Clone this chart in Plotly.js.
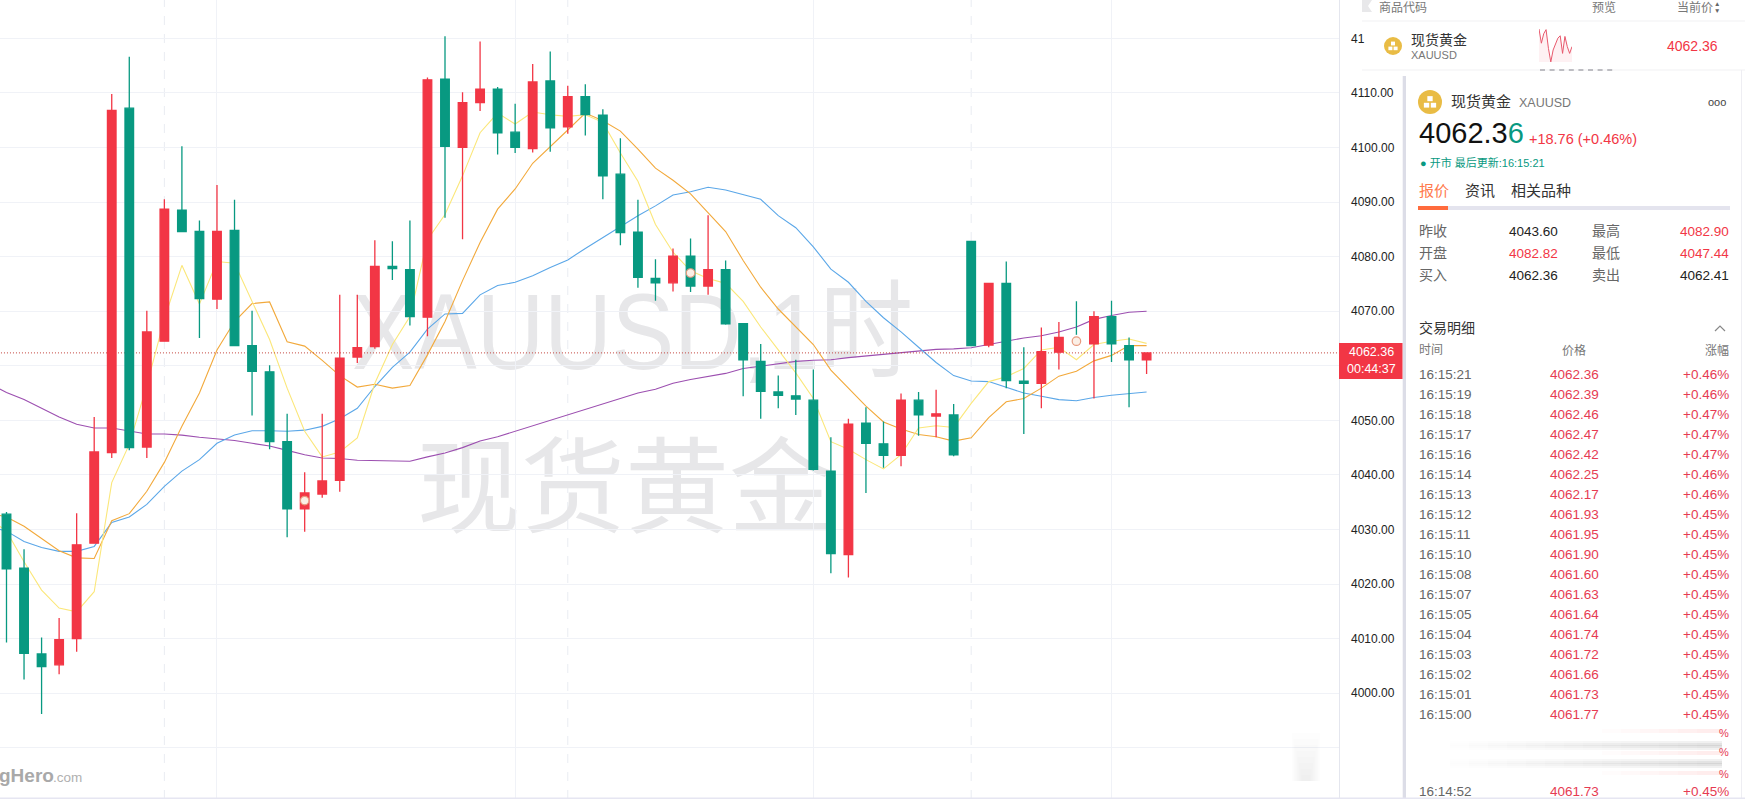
<!DOCTYPE html>
<html><head><meta charset="utf-8">
<script src="https://cdn.plot.ly/plotly-3.0.1.min.js"></script>
<style>html,body{margin:0;padding:0;background:#fff;overflow:hidden}#c{width:1745px;height:799px}</style>
</head><body><div id="c"></div>
<script>
// ---------- chart data ----------
const opens=[4032.8,4022.9,4007.2,4005.2,4010.0,4027.5,4044.1,4107.2,4045.1,4064.5,4088.5,4084.6,4072.2,4084.8,4063.7,4058.9,4046.1,4033.8,4036.5,4039.0,4061.6,4063.5,4078.2,4077.6,4068.9,4112.5,4100.0,4108.2,4110.7,4102.8,4099.8,4112.2,4103.8,4109.3,4105.9,4095.1,4084.5,4076.0,4075.2,4080.1,4074.6,4077.6,4067.7,4060.8,4055.2,4054.5,4053.7,4040.7,4025.4,4049.5,4045.7,4043.6,4053.7,4050.8,4051.0,4082.8,4063.8,4075.1,4057.2,4056.8,4062.5,4064.7,4064.0,4069.0,4063.7,4061.1];
const highs=[4033.2,4026.4,4010.2,4013.8,4033.0,4050.6,4109.8,4116.6,4070.1,4090.5,4100.2,4086.6,4093.1,4090.4,4070.1,4060.1,4051.2,4040.5,4051.2,4073.0,4073.0,4083.0,4082.8,4086.6,4112.8,4120.4,4110.1,4119.4,4111.1,4108.0,4115.3,4117.6,4111.3,4111.6,4107.0,4101.7,4090.4,4079.5,4081.5,4083.3,4087.6,4079.3,4067.7,4064.0,4058.2,4061.1,4059.3,4046.9,4050.3,4052.4,4049.8,4054.9,4055.2,4055.6,4053.0,4082.9,4075.1,4079.1,4063.4,4067.0,4068.0,4071.8,4070.0,4071.9,4065.2,4062.4];
const lows=[4009.3,4002.5,3996.2,4003.5,4007.6,4027.5,4043.1,4044.5,4043.1,4064.5,4084.5,4065.1,4070.4,4063.6,4050.9,4044.7,4028.6,4029.6,4035.8,4036.9,4060.5,4063.1,4075.7,4067.4,4065.4,4087.1,4083.2,4106.7,4098.7,4099.0,4099.1,4099.2,4102.5,4102.2,4090.5,4082.1,4074.3,4071.9,4073.6,4073.5,4073.0,4067.5,4054.4,4050.3,4052.2,4051.0,4040.8,4022.0,4021.2,4036.7,4041.3,4041.6,4047.2,4046.9,4043.4,4063.6,4063.4,4055.9,4047.5,4052.2,4059.3,4064.2,4054.0,4060.7,4052.4,4058.5];
const closes=[4022.8,4007.3,4004.9,4009.8,4027.2,4044.2,4106.8,4045.0,4066.2,4088.7,4084.6,4072.3,4084.6,4063.7,4059.0,4046.1,4033.8,4036.7,4038.9,4061.4,4063.3,4078.2,4077.8,4069.0,4112.4,4100.2,4108.2,4110.7,4102.7,4100.0,4112.0,4103.6,4109.3,4106.0,4094.8,4084.4,4076.2,4075.2,4080.1,4074.6,4077.6,4067.7,4061.1,4055.3,4054.6,4053.9,4041.0,4025.6,4049.3,4045.8,4043.6,4053.7,4051.0,4051.2,4043.7,4063.7,4075.1,4057.3,4056.8,4062.6,4065.2,4064.4,4069.0,4064.0,4061.1,4062.36];
// moving averages, first value sits one bar left of the first candle
const ma5=[4032.0,4029.7,4024.1,4018.9,4015.6,4014.9,4018.6,4038.6,4045.6,4056.4,4068.6,4078.4,4071.3,4079.1,4078.8,4071.8,4064.8,4055.9,4048.0,4043.3,4044.2,4046.8,4056.8,4063.9,4069.0,4083.1,4087.7,4094.8,4102.7,4106.3,4104.3,4106.5,4106.0,4105.7,4106.0,4104.6,4099.0,4093.8,4085.9,4080.8,4077.4,4076.0,4075.1,4071.8,4067.1,4062.9,4058.7,4054.0,4046.1,4044.7,4042.8,4041.1,4043.7,4048.6,4049.0,4048.7,4053.1,4057.1,4058.0,4059.5,4062.9,4063.4,4061.1,4063.9,4064.5,4064.9,4064.1];
const ma10=[4033.0,4032.3,4030.6,4028.3,4026.1,4024.8,4024.7,4031.6,4032.9,4037.0,4042.3,4048.9,4055.0,4062.9,4068.1,4071.4,4071.7,4064.4,4063.6,4061.0,4058.2,4056.1,4056.6,4055.9,4056.4,4062.0,4068.1,4075.6,4082.6,4088.7,4092.4,4097.1,4100.1,4103.2,4106.3,4104.9,4103.0,4099.7,4096.2,4094.0,4091.5,4088.0,4084.6,4079.3,4074.4,4070.4,4067.1,4063.9,4059.2,4055.9,4052.6,4049.7,4048.4,4047.4,4047.0,4046.2,4046.8,4050.5,4053.4,4054.0,4055.9,4058.1,4059.0,4060.9,4061.9,4063.7,4063.7];
const ma30=[4030.6,4029.7,4027.8,4026.7,4026.0,4026.0,4026.9,4031.3,4032.3,4034.6,4037.9,4040.7,4042.8,4045.8,4047.3,4048.1,4048.1,4048.0,4048.2,4048.9,4050.3,4052.2,4056.2,4059.7,4062.5,4066.7,4069.5,4069.6,4073.0,4074.7,4075.3,4076.5,4078.0,4079.4,4081.5,4083.5,4085.4,4087.5,4089.3,4091.3,4091.9,4092.7,4092.2,4091.4,4090.5,4087.5,4085.3,4081.8,4077.7,4075.3,4071.8,4068.8,4066.2,4063.4,4060.6,4058.2,4057.2,4057.1,4056.1,4055.0,4054.4,4053.8,4053.6,4054.2,4054.6,4054.9,4055.2];
const ma60=[4056.8,4055.1,4053.8,4052.2,4050.6,4049.3,4048.6,4048.6,4048.0,4047.5,4047.5,4047.3,4046.9,4046.6,4046.3,4045.8,4045.3,4044.5,4043.7,4043.1,4043.0,4042.7,4042.6,4042.6,4042.5,4043.3,4044.0,4045.0,4046.2,4047.0,4048.0,4049.1,4050.0,4051.0,4052.0,4053.1,4054.0,4055.0,4055.7,4056.8,4057.5,4058.1,4058.6,4059.5,4059.9,4060.3,4060.8,4061.0,4061.1,4061.5,4061.8,4062.0,4062.3,4062.6,4063.0,4063.1,4063.3,4063.9,4064.5,4065.1,4065.5,4066.2,4067.1,4068.5,4069.2,4069.8,4070.0];
const lastPrice=4062.36;
const markerBars=[17,39,61], markerPrices=[4035.3,4077.0,4064.5];
const solidGridBars=[12,29,46,63], dashedGridBars=[9,32,55];
const axisTicks=[3990,4000,4010,4020,4030,4040,4050,4060,4070,4080,4090,4100,4110,4120];
const axisLabels=["","4000.00","4010.00","4020.00","4030.00","4040.00","4050.00","","4070.00","4080.00","4090.00","4100.00","4110.00","41"];
const sparkValues=[4083,4067.5,4077.8,4082.3,4061.9,4047.1,4060.1,4065.6,4073,4075.6,4056.4,4074.9,4063.8,4056.4,4063.8];
// ---------- trade table ----------
const tradeTimes=["16:15:21","16:15:19","16:15:18","16:15:17","16:15:16","16:15:14","16:15:13","16:15:12","16:15:11","16:15:10","16:15:08","16:15:07","16:15:05","16:15:04","16:15:03","16:15:02","16:15:01","16:15:00"];
const tradePrices=["4062.36","4062.39","4062.46","4062.47","4062.42","4062.25","4062.17","4061.93","4061.95","4061.90","4061.60","4061.63","4061.64","4061.74","4061.72","4061.66","4061.73","4061.77"];
const tradePcts=["+0.46%","+0.46%","+0.47%","+0.47%","+0.47%","+0.46%","+0.46%","+0.45%","+0.45%","+0.45%","+0.45%","+0.45%","+0.45%","+0.45%","+0.45%","+0.45%","+0.45%","+0.45%"];

// ---------- helpers ----------
const W=1745,H=799, RED='#F23645', GREEN='#089981', TXT='#333333', GREY='#777777';
const FONT='"Liberation Sans","Noto Sans CJK SC",sans-serif';
const px=x=>x/W, py=y=>1-y/H;
const bars=opens.map((_,i)=>i), maX=ma5.map((_,i)=>i-1);
const shapes=[], notes=[];
function rect(x0,y0,x1,y1,color,opacity,layer){shapes.push({type:'rect',xref:'paper',yref:'paper',x0:px(x0),x1:px(x1),y0:py(y1),y1:py(y0),fillcolor:color,opacity:opacity==null?1:opacity,line:{width:0},layer:layer||'above'});}
function disc(cx,cy,r,color){shapes.push({type:'circle',xref:'paper',yref:'paper',x0:px(cx-r),x1:px(cx+r),y0:py(cy+r),y1:py(cy-r),fillcolor:color,line:{width:0},layer:'above'});}
function T(text,x,y,size,color,anchor){notes.push({text:text,x:px(x),y:py(y),xref:'paper',yref:'paper',xanchor:anchor||'left',yanchor:'middle',showarrow:false,borderpad:0,font:{family:FONT,size:size,color:color}});}
function goldIcon(cx,cy,r){disc(cx,cy,r,'#E9BC45');const u=r/4.5;rect(cx-u,cy-2.2*u,cx+u,cy-0.3*u,'#fff');rect(cx-2.3*u,cy+0.3*u,cx-0.3*u,cy+2.1*u,'#fff');rect(cx+0.3*u,cy+0.3*u,cx+2.3*u,cy+2.1*u,'#fff');}

// dashed vertical grid
dashedGridBars.forEach(b=>shapes.push({type:'line',xref:'x',yref:'paper',x0:b,x1:b,y0:0,y1:1,line:{color:'#e9ecf2',width:1,dash:'dash'},layer:'below'}));
// watermark (under everything)
function mark(text,x0,y0,x1,y1,size,fam){shapes.push({type:'rect',xref:'paper',yref:'paper',x0:px(x0),x1:px(x1),y0:py(y1),y1:py(y0),line:{width:0},fillcolor:'rgba(0,0,0,0)',layer:'below',label:{text:text,textposition:'middle center',padding:0,font:{size:size,color:'#e7e7e9',family:fam}}});}
mark('XAUUSD,1时',330,267,935,377,107,'"Liberation Sans","Noto Sans CJK SC",sans-serif');
mark('现货黄金',410,439,840,554,104,'"Noto Sans CJK SC",sans-serif');

// logo
notes.push({text:'<b>gHero</b>',x:px(-2),y:py(775),xref:'paper',yref:'paper',xanchor:'left',yanchor:'middle',showarrow:false,borderpad:0,font:{family:'"Liberation Sans",sans-serif',size:19,color:'#a9a9a9'}});
T('.com',52,777,13.5,'#b0b0b0');

// axis edge, panels
rect(1339,0,1340,799,'#e4e6ee');
rect(1402.7,76,1406,799,'#dcdde7');
rect(1362,20.5,1745,21.5,'#f1f1f4');
rect(1362,69.5,1745,70.5,'#f1f1f4');
rect(1741,70,1742,799,'#eeeef3');
rect(0,797.5,1745,799,'#e6e6f2');
shapes.push({type:'path',xref:'paper',yref:'paper',path:`M ${px(1372)} ${py(0)} L ${px(1362)} ${py(0)} L ${px(1362)} ${py(12)} L ${px(1372)} ${py(12)} L ${px(1368)} ${py(6)} Z`,fillcolor:'#e8e8ea',line:{width:0},layer:'above'});
for(let i=0;i<8;i++) rect(1540+i*9.6,69,1545+i*9.6,71,'#bdbdc2');

// price tag
rect(1339,343,1402.5,379,RED);
T('4062.36',1371,352,12.5,'#ffffff','center');
T('00:44:37',1371,369,12.5,'#ffffff','center');

// smudges: soft fades built from very faint stacked bars
for(let i=0;i<14;i++){
  [0,2,3.5].forEach(d=>{
    rect(1450+i*19,741+d,1722,750-d,'#8e8e8e',0.011);
    rect(1450+i*19,759+d,1722,768-d,'#8e8e8e',0.011);
  });
  if(i>7){rect(1450+i*19,729,1722,733,'#e9536a',0.018);rect(1450+i*19,751,1722,755,'#e9536a',0.018);rect(1450+i*19,771,1722,775,'#e9536a',0.018);}
}
for(let i=0;i<8;i++) rect(1292+i*1.4,733+i*6,1320-i*1.4,781,'#9a9a9a',0.022);

// header row
T('商品代码',1378,7,12,GREY);
T('预览',1604,7,12,GREY,'center');
T('当前价',1676,7,12,GREY);
T('▲',1717,4,6.5,'#666666','center');
T('▼',1717,10,6.5,'#666666','center');
goldIcon(1393,46,9);
T('现货黄金',1410,40,14,TXT);
T('XAUUSD',1410,55,11,GREY);
T('4062.36',1719,46,14,RED,'right');

// quote card
goldIcon(1430,102,12);
T('现货黄金',1450,101,15,TXT);
T('XAUUSD',1518,103,12.5,GREY);
T('ooo',1717,102,11,'#444444','center');
notes.push({text:'4062.3<span style="color:#089981">6</span>',x:px(1418),y:py(133),xref:'paper',yref:'paper',xanchor:'left',yanchor:'middle',showarrow:false,borderpad:0,font:{family:FONT,size:29,color:'#111111'}});
T('+18.76 (+0.46%)',1528,139.5,14.5,RED);
T('● 开市 最后更新:16:15:21',1419,162,11,GREEN);
T('报价',1418,190.5,15,'#FF7A4D');
T('资讯',1464,190.5,15,TXT);
T('相关品种',1510,190.5,15,TXT);
rect(1418,206,1730,210,'#e4e4ee');
rect(1418,206,1448,210,'#FF6B3D');
[['昨收','4043.60','#222222','最高','4082.90',RED],['开盘','4082.82',RED,'最低','4047.44',RED],['买入','4062.36','#222222','卖出','4062.41','#222222']].forEach((r,i)=>{
  const y=231+22*i;
  T(r[0],1418,y,14,'#666666');T(r[1],1508,y,13.5,r[2]);T(r[3],1591,y,14,'#666666');T(r[4],1730,y,13.5,r[5],'right');
});
T('交易明细',1418,328,14,TXT);
shapes.push({type:'path',xref:'paper',yref:'paper',path:`M ${px(1715)} ${py(331)} L ${px(1720)} ${py(326)} L ${px(1725)} ${py(331)}`,line:{color:'#888888',width:1.2},layer:'above'});
T('时间',1418,350,12,GREY);
T('价格',1574,350,12,GREY,'center');
T('涨幅',1730,350,12,GREY,'right');
tradeTimes.forEach((t,i)=>{
  const y=374+20*i;
  T(t,1418,y,13.5,'#666666');T(tradePrices[i],1574,y,13.5,'#E63B52','center');T(tradePcts[i],1730,y,13.5,'#E63B52','right');
});
[733,752,774].forEach(y=>T('%',1730,y,11,'#E63B52','right'));
T('16:14:52',1418,791.5,13.5,'#666666');T('4061.73',1574,791.5,13.5,'#E63B52','center');T('+0.45%',1730,791.5,13.5,'#E63B52','right');

const line=(y,c,n)=>({type:'scatter',mode:'lines',x:maX,y:y,name:n,line:{color:c,width:1.1},hoverinfo:'skip',zorder:0});
const traces=[
  line(ma60,'#9C4FB0','MA60'),
  line(ma30,'#5BA7E8','MA30'),
  line(ma10,'#F2A93B','MA10'),
  line(ma5,'#FBE77A','MA5'),
  {type:'scatter',mode:'lines',x:[-1,76],y:[lastPrice,lastPrice],line:{color:'#C2423C',width:1,dash:'1px,2px'},hoverinfo:'skip',zorder:0},
  {type:'candlestick',x:bars,open:opens,high:highs,low:lows,close:closes,whiskerwidth:0,zorder:1,
    increasing:{line:{color:RED,width:1.3},fillcolor:RED},decreasing:{line:{color:GREEN,width:1.3},fillcolor:GREEN}},
  {type:'scatter',mode:'markers',x:[markerBars[2]],y:[markerPrices[2]],marker:{size:13,color:'#ffffff'},hoverinfo:'skip',zorder:2},
  {type:'scatter',mode:'markers',x:markerBars,y:markerPrices,marker:{size:8.5,color:'#FBEFE6',line:{color:'#E79A7E',width:1.2}},hoverinfo:'skip',zorder:3},
  {type:'scatter',mode:'lines',x:sparkValues.map((_,i)=>i),y:sparkValues,xaxis:'x2',yaxis:'y2',line:{color:'#E8596D',width:1},fill:'tozeroy',fillcolor:'rgba(240,80,100,0.08)',hoverinfo:'skip'}
];
const layout={
  width:W,height:H,margin:{l:0,r:0,t:0,b:0,pad:0},paper_bgcolor:'#ffffff',plot_bgcolor:'#ffffff',showlegend:false,boxgap:0.3,
  font:{family:FONT},
  xaxis:{domain:[0,1339/W],range:[-0.3706,75.97],tickvals:solidGridBars,showticklabels:false,ticks:'',showgrid:true,gridcolor:'#f0f2f7',gridwidth:1,zeroline:false,showline:false,rangeslider:{visible:false},fixedrange:true},
  yaxis:{domain:[0,1],range:[3980.62,4127.02],side:'right',tickmode:'array',tickvals:axisTicks,ticktext:axisLabels,ticklen:0,ticklabelstandoff:11,showgrid:true,gridcolor:'#f0f2f7',gridwidth:1,zeroline:false,showline:false,tickfont:{family:FONT,size:12,color:'#222222'},fixedrange:true},
  xaxis2:{domain:[1539/W,1572/W],anchor:'y2',range:[0,14],visible:false,fixedrange:true},
  yaxis2:{domain:[1-62/H,1-29/H],anchor:'x2',range:[4047,4083],visible:false,fixedrange:true},
  shapes:shapes,annotations:notes
};
Plotly.newPlot('c',traces,layout,{displayModeBar:false,staticPlot:true}).then(()=>{
  // the reference watermark latin text is narrower than the available fonts
  document.querySelectorAll('#c svg text').forEach(t=>{
    if(t.textContent==='XAUUSD,1时'){t.setAttribute('textLength','561');t.setAttribute('lengthAdjust','spacingAndGlyphs');}
  });
});
</script></body></html>
